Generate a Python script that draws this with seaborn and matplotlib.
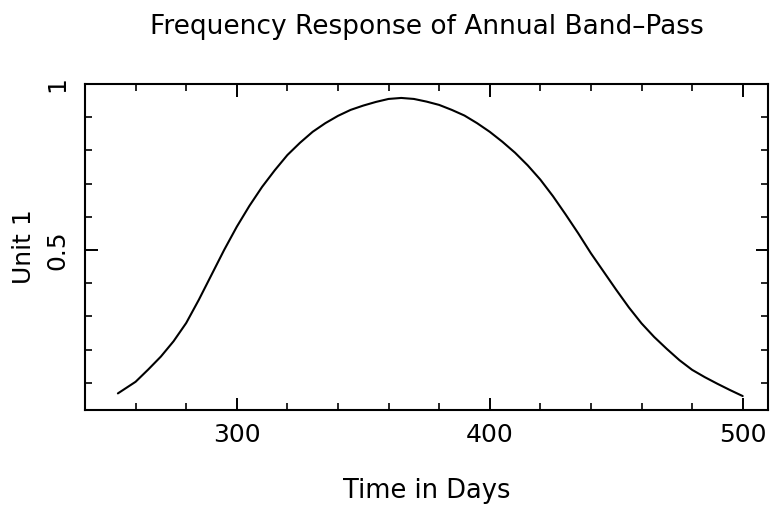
import matplotlib
matplotlib.use("Agg")
import matplotlib.pyplot as plt
from matplotlib.ticker import MultipleLocator, FixedLocator
import seaborn as sns
import pandas as pd

days = [253, 255, 260, 265, 270, 275, 280, 285, 290, 295, 300, 305, 310, 315,
        320, 325, 330, 335, 340, 345, 350, 355, 360, 365, 370, 375, 380, 385,
        390, 395, 400, 405, 410, 415, 420, 425, 430, 435, 440, 445, 450, 455,
        460, 465, 470, 475, 480, 485, 490, 495, 500]
response = [0.068, 0.078, 0.103, 0.140, 0.179, 0.225, 0.280, 0.350, 0.425,
            0.500, 0.570, 0.633, 0.690, 0.740, 0.786, 0.823, 0.856, 0.882,
            0.904, 0.922, 0.935, 0.946, 0.955, 0.958, 0.955, 0.947, 0.937,
            0.922, 0.905, 0.882, 0.856, 0.826, 0.793, 0.755, 0.712, 0.662,
            0.607, 0.550, 0.490, 0.435, 0.380, 0.327, 0.279, 0.238, 0.202,
            0.168, 0.139, 0.117, 0.097, 0.078, 0.060]

title = "Frequency Response of Annual Band\u2013Pass"
xlabel = "Time in Days"
ylabel = "Unit 1"
xticks = [300, 400, 500]
yticks = [0.5, 1]
ytick_labels = ["0.5", "1"]

sns.set_theme(style="ticks")
plt.rcParams["font.family"] = ["DejaVu Sans"]

df = pd.DataFrame({"day": days, "resp": response})

fig = plt.figure(figsize=(7.71, 5.05), dpi=100)
ax = fig.add_axes([85 / 771, 1 - 410 / 505, (768 - 85) / 771, (410 - 84) / 505])

sns.lineplot(data=df, x="day", y="resp", ax=ax, color="black", linewidth=1.5,
             solid_joinstyle="round", solid_capstyle="round")

ax.set_xlim(240, 510)
ax.set_ylim(0.018, 1.0)

ax.xaxis.set_major_locator(FixedLocator(xticks))
ax.xaxis.set_minor_locator(MultipleLocator(20))
ax.yaxis.set_major_locator(FixedLocator(yticks))
ax.set_yticklabels(ytick_labels)
ax.yaxis.set_minor_locator(MultipleLocator(0.1))

for sp in ax.spines.values():
    sp.set_visible(True)
    sp.set_linewidth(1.5)
    sp.set_color("black")

ax.tick_params(which="both", direction="in", top=True, right=True, color="black")
ax.tick_params(which="major", length=9, width=1.4, labelsize=18, labelcolor="black")
ax.tick_params(which="minor", length=5, width=1.2)
ax.tick_params(axis="x", which="major", pad=9)
ax.tick_params(axis="y", which="major", pad=11)
for lab in ax.get_yticklabels():
    lab.set_rotation(90)
    lab.set_va("center")

ax.set_xlabel(xlabel, fontsize=18.5, labelpad=23, color="black")
ax.set_ylabel(ylabel, fontsize=18, labelpad=7, color="black")
ax.set_title(title, fontsize=19, pad=36, color="black")

fig.savefig("out.png", dpi=100)
